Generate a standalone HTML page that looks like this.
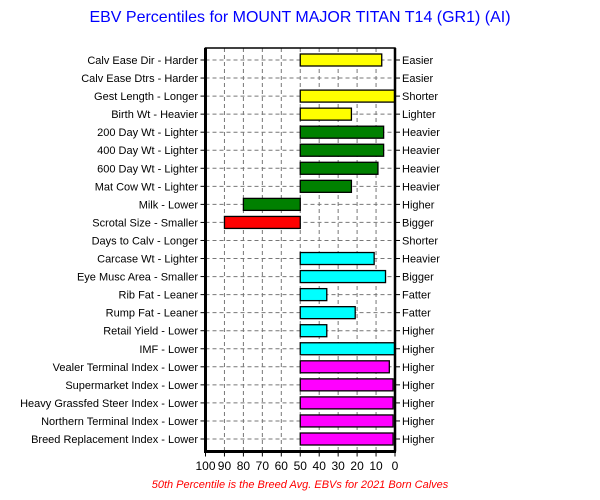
<!DOCTYPE html>
<html><head><meta charset="utf-8"><style>
body{margin:0;background:#fff;font-family:"Liberation Sans",sans-serif}
</style></head><body>
<svg id="c" width="600" height="495" xmlns="http://www.w3.org/2000/svg">
<text x="300" y="22" text-anchor="middle" font-size="16" fill="#0000ff">EBV Percentiles for MOUNT MAJOR TITAN T14 (GR1) (AI)</text>
<text x="300" y="488" text-anchor="middle" font-size="11" font-style="italic" fill="#ff0000">50th Percentile is the Breed Avg. EBVs for 2021 Born Calves</text>
<g id="g"></g>
</svg>
<script>
const traits=["Calv Ease Dir - Harder","Calv Ease Dtrs - Harder","Gest Length - Longer","Birth Wt - Heavier","200 Day Wt - Lighter","400 Day Wt - Lighter","600 Day Wt - Lighter","Mat Cow Wt - Lighter","Milk - Lower","Scrotal Size - Smaller","Days to Calv - Longer","Carcase Wt - Lighter","Eye Musc Area - Smaller","Rib Fat - Leaner","Rump Fat - Leaner","Retail Yield - Lower","IMF - Lower","Vealer Terminal Index - Lower","Supermarket Index - Lower","Heavy Grassfed Steer Index - Lower","Northern Terminal Index - Lower","Breed Replacement Index - Lower"];
const goodLabels=["Easier","Easier","Shorter","Lighter","Heavier","Heavier","Heavier","Heavier","Higher","Bigger","Shorter","Heavier","Bigger","Fatter","Fatter","Higher","Higher","Higher","Higher","Higher","Higher","Higher"];
const percentiles=[7,null,0,23,6,6,9,23,80,90,null,11,5,36,21,36,0,3,1,1,1,1];
const colors=["#ffff00","#ffff00","#ffff00","#ffff00","#008000","#008000","#008000","#008000","#008000","#ff0000","#ff0000","#00ffff","#00ffff","#00ffff","#00ffff","#00ffff","#00ffff","#ff00ff","#ff00ff","#ff00ff","#ff00ff","#ff00ff"];
const ticks=[100,90,80,70,60,50,40,30,20,10,0];
const L=205.5,R=395,T=48,B=451.5;
const x=v=>R-v*(R-L)/100;
const y=i=>60+i*(439-60)/(traits.length-1);
const g=document.getElementById('g');const NS="http://www.w3.org/2000/svg";
function mk(t,a,txt){const e=document.createElementNS(NS,t);for(const k in a)e.setAttribute(k,a[k]);if(txt!=null)e.textContent=txt;g.appendChild(e);return e;}
ticks.forEach(t=>{if(t>0&&t<100){const e=mk('line',{x1:x(t),x2:x(t),y1:T,y2:B,stroke:'#777','stroke-dasharray':'4,3'});

}
const tk=mk('line',{x1:x(t),x2:x(t),y1:B,y2:B+5,stroke:'#000'});


const l=mk('text',{x:x(t),y:470,'text-anchor':'middle','font-size':12},String(t));

});
traits.forEach((n,i)=>{const yy=y(i);
const gl=mk('line',{x1:L,x2:R,y1:yy,y2:yy,stroke:'#777','stroke-dasharray':'4,3'});


mk('line',{x1:L-5,x2:L,y1:yy,y2:yy,stroke:'#000'});mk('line',{x1:R,x2:R+5,y1:yy,y2:yy,stroke:'#000'});
const a=mk('text',{x:198,y:yy+4,'text-anchor':'end','font-size':11},n);


const b=mk('text',{x:402,y:yy+4,'font-size':11},goodLabels[i]);


const p=percentiles[i];if(p!=null){const x0=Math.min(x(50),x(p)),x1=Math.max(x(50),x(p));
const r=mk('rect',{x:x0,y:yy-6,width:x1-x0,height:12,fill:colors[i],stroke:'#000','stroke-width':1.3});

}});
const f=mk('rect',{x:L,y:T,width:R-L,height:B-T,fill:'none',stroke:'#000','stroke-width':1.5});


mk('line',{x1:L,x2:L,y1:T,y2:B+1.5,stroke:'#000','stroke-width':3});
mk('line',{x1:L,x2:R+1,y1:B,y2:B,stroke:'#000','stroke-width':3});
mk('line',{x1:R,x2:R,y1:T,y2:B,stroke:'#000','stroke-width':2.5});
</script>
</body></html>
